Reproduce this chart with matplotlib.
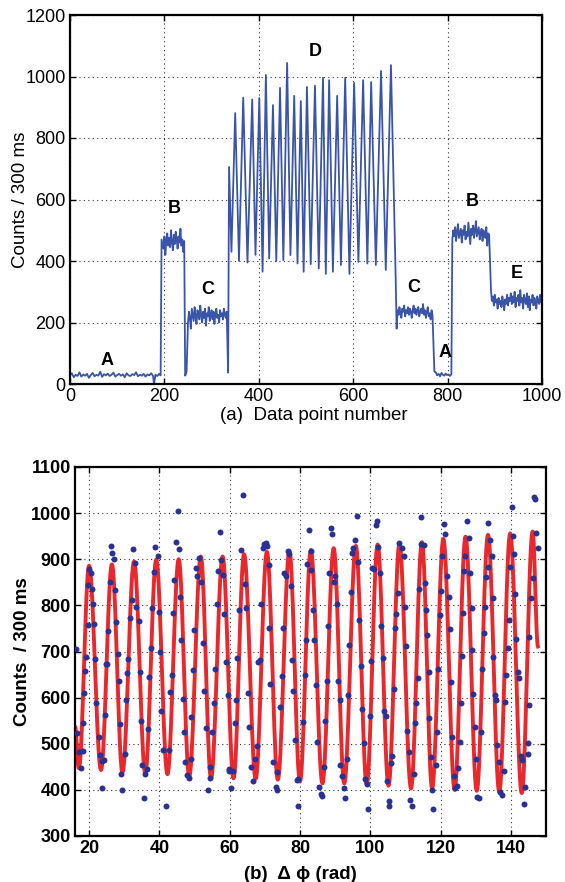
import numpy as np
import matplotlib
matplotlib.use("Agg")
import matplotlib.pyplot as plt

plt.rcParams['font.family'] = ['Liberation Sans', 'DejaVu Sans']

# ---- panel (a): counts per data point ----
a1_start = 0
a1_vals = [28, 35, 22, 30, 26, 38, 24, 31, 27, 33, 20, 29, 36, 25, 30, 27, 40, 23, 32, 28,
           34, 26, 30, 37, 24, 29, 33, 27, 31, 22, 35, 28, 26, 32, 29, 38, 25, 30, 27, 33,
           24, 31, 28, 35, 26]
a1_tail_idx = [178, 181, 185, 189, 192]
a1_tail_val = [0, 30, 26, 33, 28]

b1_start = 194
b1_vals = [470, 455, 440, 480, 420, 465, 490, 450, 475, 445, 500, 460, 435, 485, 455, 495,
           470, 440, 480, 460, 505, 450, 470, 430, 465]
b1_tail_idx = [244, 247]
b1_tail_val = [27, 40]

c1_start = 250
c1_vals = [200, 235, 215, 180, 245, 225, 205, 250, 220, 195, 240, 230, 210, 255, 225, 200,
           235, 215, 245, 190, 230, 220, 250, 205, 225, 240, 210, 235, 195, 230, 245, 215,
           225, 200, 240, 220, 230, 210, 245, 225, 215, 235]

d_idx = [335, 337, 342, 350, 358, 367, 376, 386, 393, 401, 408, 415, 422, 430, 437, 445,
         452, 460, 467, 475, 482, 489, 495, 502, 510, 519, 527, 536, 542, 549, 557, 566,
         574, 583, 592, 602, 611, 621, 630, 638, 648, 659, 669, 680, 690, 692]
d_val = [37, 706, 430, 881, 400, 931, 395, 925, 420, 930, 365, 1005, 408, 907, 400, 963,
         403, 1044, 419, 937, 392, 920, 365, 966, 390, 970, 376, 996, 358, 988, 365, 937,
         387, 996, 358, 979, 397, 988, 392, 982, 387, 1018, 371, 1037, 345, 180]

c2_start = 694
c2_vals = [240, 225, 250, 230, 215, 245, 235, 255, 220, 240, 230, 250, 225, 245, 235, 215,
           240, 255, 230, 245, 225, 240, 250, 220, 235, 245, 230, 260, 225, 240, 215, 235,
           250, 220, 230, 210, 240, 225]

a2_start = 772
a2_vals = [40, 38, 28, 33, 25, 36, 30, 27, 34, 29, 31, 26, 32]

b2_start = 810
b2_vals = [470, 500, 480, 510, 465, 495, 520, 475, 490, 505, 460, 500, 485, 515, 470, 495,
           480, 525, 490, 455, 505, 485, 515, 475, 500, 530, 480, 495, 510, 470, 490, 505,
           465, 500, 485, 475, 510, 450, 490, 485]

e_start = 892
e_vals = [300, 270, 285, 255, 290, 265, 275, 245, 280, 260, 270, 250, 285, 265, 240, 275,
          260, 290, 255, 280, 270, 295, 260, 285, 265, 300, 250, 280, 270, 290, 255, 305,
          265, 280, 245, 290, 270, 260, 295, 250, 285, 240, 275, 265, 290, 255, 280, 265,
          245, 285, 270, 260, 290, 265, 275]

seg_labels = ['A', 'B', 'C', 'D', 'C', 'A', 'B', 'E']
seg_label_x = [78, 220, 292, 519, 729, 794, 852, 947]
seg_label_y = [78, 572, 306, 1080, 315, 104, 592, 358]

# ---- panel (b): points vs phase and the fitted curve ----
pts_x = [16.4, 16.5, 17.1, 17.7, 18.2, 18.2, 18.6, 18.9, 19.2, 19.6, 19.6, 20.0, 20.6, 20.9,
         21.1, 21.4, 21.7, 22.1, 22.7, 23.2, 23.6, 23.8, 24.3, 24.5, 24.9, 25.2, 25.5, 25.9,
         26.2, 26.6, 27.0, 27.3, 27.6, 28.1, 28.4, 28.7, 29.1, 29.5, 30.1, 30.5, 30.8, 31.2,
         31.7, 32.1, 32.5, 33.2, 33.4, 34.1, 34.5, 34.8, 35.0, 35.5, 36.0, 36.4, 36.7, 37.1,
         37.6, 37.9, 38.4, 38.8, 39.5, 40.0, 40.2, 40.5, 41.0, 42.0, 42.8, 43.1, 43.6, 44.0,
         44.3, 44.8, 45.2, 45.6, 45.9, 46.2, 46.7, 47.0, 47.4, 47.8, 48.5, 48.9, 49.1, 49.6,
         49.9,
         50.4, 50.8, 51.4, 51.8, 52.3, 52.8, 53.3, 53.9, 54.4, 54.4, 55.1, 55.6, 55.9, 56.3,
         56.8, 57.3, 57.5, 58.0, 58.3, 58.9, 59.4, 59.7, 59.9, 60.3, 60.9, 61.4, 61.9, 62.2,
         62.8, 63.2, 63.7, 64.3, 64.7, 65.3, 65.6, 66.1, 66.6, 67.1, 67.7, 68.2, 68.5, 69.0,
         69.4, 69.8, 70.2, 70.7, 71.1, 71.2, 71.6, 72.3, 73.2, 73.6, 73.6, 74.2, 74.8, 75.3,
         75.6, 76.1, 76.6, 77.0, 77.4, 77.6, 77.9, 78.7, 79.1, 79.5, 79.4, 80.8, 81.3, 81.7,
         82.0, 82.5, 83.0, 83.1, 83.7,
         84.1, 84.5, 84.9, 85.5, 86.0, 86.4, 86.7, 87.1, 87.6, 88.1, 88.3, 88.8, 89.2, 89.6,
         90.0, 90.5, 90.7, 91.3, 91.5, 91.9, 92.4, 92.9, 93.3, 93.8, 94.0, 94.4, 94.8, 95.1,
         95.8, 96.2, 96.5, 96.9, 97.3, 97.6, 98.2, 98.5, 99.0, 99.3, 99.9, 100.2, 100.6,
         101.2, 101.7, 101.9, 102.3, 102.7, 103.1, 103.6, 104.0, 104.4, 104.9, 105.4, 105.2,
         105.9, 106.3, 106.7, 107.1, 107.4, 107.8, 108.2, 108.9, 109.5, 109.9, 110.1, 110.5,
         110.9, 111.4, 111.8, 112.4, 112.8, 113.0, 113.6, 114.0, 114.5, 114.5, 115.2, 115.5,
         115.9, 116.2, 116.6, 116.8,
         117.2, 117.6, 117.9, 118.6, 119.1, 119.4, 119.8, 120.0, 120.5, 120.9, 121.3, 121.7,
         122.4, 122.7, 122.9, 123.3, 123.8, 124.2, 124.7, 125.1, 125.4, 125.7, 126.0, 126.3,
         126.7, 127.0, 127.6, 128.0, 128.4, 128.9, 129.0, 129.3, 129.7, 130.1, 130.5, 130.9,
         131.5, 131.9, 132.3, 132.7, 132.9, 133.4, 133.6, 134.1, 134.7, 134.9, 135.0, 135.5,
         135.8, 136.2, 136.6, 136.9, 137.4, 138.0, 138.4, 138.6, 139.1, 139.5, 139.8, 140.3,
         140.5, 141.0, 141.2, 141.5, 141.9, 142.2, 142.9, 143.3, 143.9, 143.8, 144.8, 145.0,
         145.1, 145.2, 145.8, 146.2, 146.5, 146.8, 147.2, 147.6]
pts_y = [705, 523, 483, 447, 484, 546, 611, 658, 687, 758, 844, 879, 870, 835,
         802, 759, 683, 589, 515, 476, 405, 463, 465, 562, 673, 673, 745, 850,
         929, 913, 901, 833, 765, 695, 635, 542, 434, 400, 478, 595, 653, 684,
         773, 812, 922, 891, 796, 767, 656, 549, 453, 383, 435, 446, 533, 645,
         708, 795, 873, 927, 908, 786, 700, 572, 487, 364, 487, 613, 648, 784,
         855, 938, 1005, 922, 819, 725, 596, 526, 461, 432, 425, 467, 559, 659,
         747,
         880, 864, 903, 851, 718, 615, 535, 400, 425, 449, 525, 588, 661, 804,
         875, 960, 899, 866, 782, 677, 606, 445, 440, 403, 441, 544, 595, 685,
         789, 920, 1039, 846, 795, 609, 536, 450, 419, 468, 495, 677, 682, 804,
         924, 933, 935, 929, 888, 752, 629, 461, 406, 400, 438, 580, 646, 752,
         870, 863, 918, 911, 842, 682, 614, 508, 422, 424, 364, 547, 649, 724,
         889, 963, 918, 876, 789,
         725, 627, 503, 406, 390, 387, 450, 549, 635, 755, 871, 967, 954, 851,
         864, 802, 636, 595, 453, 429, 403, 383, 468, 606, 714, 828, 913, 925,
         942, 994, 893, 768, 669, 576, 502, 424, 412, 359, 561, 679, 880,
         878, 974, 983, 927, 871, 755, 685, 570, 560, 419, 376, 364,
         458, 474, 619, 750, 781, 826, 936, 924, 907, 797, 713, 528,
         483, 378, 366, 435, 544, 589, 643, 835, 932, 992, 931, 849,
         789, 736, 656, 555,
         472, 400, 358, 454, 526, 663, 779, 831, 906, 976, 954, 864,
         819, 748, 633, 515, 431, 403, 408, 448, 503, 589, 690, 783,
         875, 906, 983, 947, 871, 795, 703, 608, 537, 468, 384, 383,
         526, 662, 740, 796, 861, 978, 884, 942, 907, 817, 687, 606,
         595, 497, 461, 396, 389, 441, 591, 650, 707, 768, 884, 1014,
         951, 911, 824, 727, 656, 642, 474, 464, 406, 370, 478, 502,
         585, 732, 817, 859, 1034, 1030, 956, 924]

# extrema of the red fitted curve (start, troughs/peaks, end)
fit_x = [16.0, 17.1, 20.0, 23.4, 26.5, 29.5, 32.8, 36.0, 39.1, 42.3, 45.5, 48.5, 51.8, 54.7,
         58.0, 61.1, 64.1, 67.4, 70.6, 73.7, 77.0, 80.0, 83.1, 86.4, 89.6, 92.6, 95.9, 99.0,
         102.1, 105.2, 108.3, 111.6, 114.7, 117.6, 120.8, 124.0, 127.1, 130.3, 133.5, 136.7,
         139.8, 143.1, 146.2, 147.7]
fit_y = [537, 447, 886, 443, 889, 438, 895, 436, 899, 434, 900, 429, 906, 425,
         906, 425, 911, 424, 916, 422, 918, 418, 920, 414, 924, 414, 929, 411,
         932, 409, 933, 403, 937, 403, 944, 400, 949, 398, 953, 395, 956, 393, 960, 711]

# assemble the top trace
top_x = np.concatenate([
    a1_start + 4 * np.arange(len(a1_vals)), a1_tail_idx,
    b1_start + 2 * np.arange(len(b1_vals)), b1_tail_idx,
    c1_start + 2 * np.arange(len(c1_vals)), d_idx,
    c2_start + 2 * np.arange(len(c2_vals)),
    a2_start + 3 * np.arange(len(a2_vals)),
    b2_start + 2 * np.arange(len(b2_vals)),
    e_start + 2 * np.arange(len(e_vals))])
top_y = np.concatenate([a1_vals, a1_tail_val, b1_vals, b1_tail_val, c1_vals, d_val,
                        c2_vals, a2_vals, b2_vals, e_vals])

# red curve: half-cosine arcs between the read extrema
cx, cy = [], []
for i in range(len(fit_x) - 1):
    t = np.linspace(0, 1, 20)
    cx.append(fit_x[i] + (fit_x[i + 1] - fit_x[i]) * t)
    cy.append(fit_y[i] + (fit_y[i + 1] - fit_y[i]) * (1 - np.cos(np.pi * t)) / 2)
cx = np.concatenate(cx)
cy = np.concatenate(cy)


def matlab_axes(ax, bold=False):
    for s in ax.spines.values():
        s.set_linewidth(1.6)
    ax.tick_params(direction='in', top=True, right=True, length=4, width=1,
                   labelsize=13, pad=3)
    ax.grid(True, color='k', linestyle=(0, (1, 3)), linewidth=0.8, alpha=0.8)
    if bold:
        for lab in ax.get_xticklabels() + ax.get_yticklabels():
            lab.set_fontweight('bold')


fig = plt.figure(figsize=(5.65, 8.82), dpi=100)

ax1 = fig.add_axes([70 / 565, 1 - 384 / 882, 472 / 565, 369 / 882])
ax1.plot(top_x, top_y, color='#3a55a8', linewidth=1.3)
ax1.set_xlim(0, 1000)
ax1.set_ylim(0, 1200)
ax1.set_xticks(range(0, 1001, 200))
ax1.set_yticks(range(0, 1201, 200))
matlab_axes(ax1)
ax1.set_xlabel('(a)  Data point number', fontsize=13.5)
ax1.set_ylabel('Counts / 300 ms', fontsize=13.5)
ax1.xaxis.set_label_coords(0.517, -0.063)
ax1.yaxis.set_label_coords(-0.087, 0.5)
for s, x, y in zip(seg_labels, seg_label_x, seg_label_y):
    ax1.text(x, y, s, fontsize=13, fontweight='bold', ha='center', va='center')

ax2 = fig.add_axes([75 / 565, 1 - 836 / 882, 471 / 565, 369 / 882])
ax2.plot(cx, cy, color='#e8282d', linewidth=2.8, zorder=2)
ax2.plot(pts_x, pts_y, 'o', color='#2b3192', markersize=4.3, markeredgewidth=0, zorder=3)
ax2.set_xlim(16, 150)
ax2.set_ylim(300, 1100)
ax2.set_xticks(range(20, 141, 20))
ax2.set_yticks(range(300, 1101, 100))
matlab_axes(ax2, bold=True)
ax2.set_xlabel('(b)  \u0394 \u03d5 (rad)', fontsize=13.5, fontweight='bold')
ax2.set_ylabel('Counts  / 300 ms', fontsize=13.5, fontweight='bold')
ax2.xaxis.set_label_coords(0.478, -0.08)
ax2.yaxis.set_label_coords(-0.093, 0.5)

fig.savefig('out.png', dpi=100)
